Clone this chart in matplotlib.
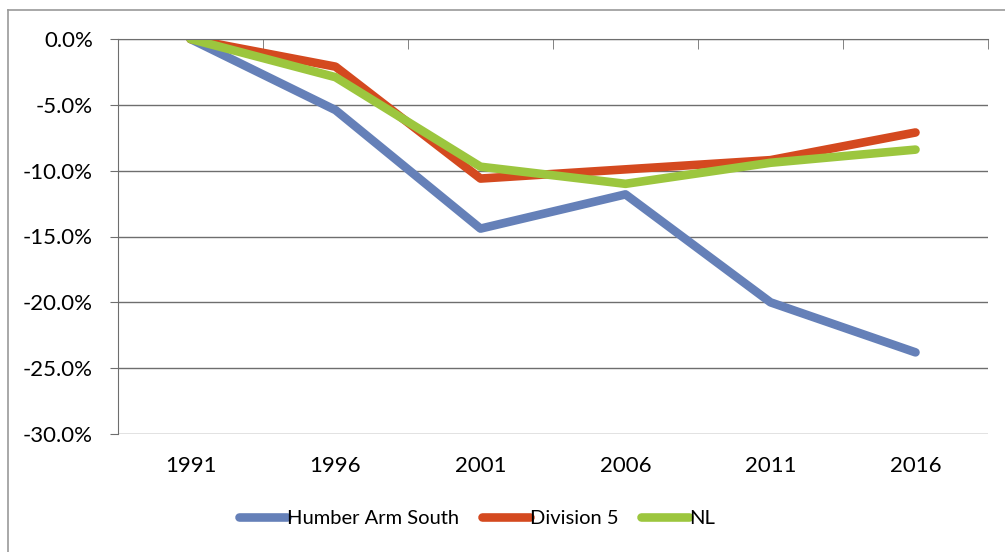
import numpy as np
import matplotlib.pyplot as plt
from matplotlib.lines import Line2D
from matplotlib.ticker import FuncFormatter

years = ['1991', '1996', '2001', '2006', '2011', '2016']

# population change relative to 1991, in percent
humber_arm_south = [0.0, -5.4, -14.4, -11.8, -20.0, -23.8]
division_5 = [0.0, -2.1, -10.6, -9.9, -9.2, -7.1]
nl = [0.0, -2.9, -9.7, -11.0, -9.4, -8.4]

series = [('Humber Arm South', humber_arm_south, '#6580B8'),
          ('Division 5', division_5, '#D4491F'),
          ('NL', nl, '#9CC63E')]

plt.rcParams['font.family'] = ['Lato', 'DejaVu Sans']

fig = plt.figure(figsize=(10.05, 5.52), dpi=100)
W, H = 1005, 552
ax = fig.add_axes([118 / W, (H - 434) / H, 870 / W, 395 / H])

# chart border (left and top edges only, the rest runs off the page)
for xs, ys in [([8, 8], [0, 542]), ([8, W], [542, 542])]:
    fig.add_artist(Line2D([v / W for v in xs], [v / H for v in ys],
                          transform=fig.transFigure, color='#9a9a9a', linewidth=1.2))

x = np.arange(len(years))
for name, vals, color in series:
    ax.plot(x, vals, color=color, linewidth=6.2, solid_capstyle='round',
            solid_joinstyle='round', label=name)

ax.set_xlim(-0.5, len(years) - 0.5)
ax.set_ylim(-30, 0)
ax.set_yticks(np.arange(-30, 1, 5))
ax.yaxis.set_major_formatter(FuncFormatter(lambda v, p: '%.1f%%' % v))
ax.yaxis.grid(True, color='#6e6e6e', linewidth=1.0)
ax.set_axisbelow(True)

ax.set_xticks(x)
ax.set_xticklabels(years)
ax.set_xticks(np.arange(-0.5, len(years), 1.0), minor=True)
ax.tick_params(axis='x', which='major', length=0, pad=16, labelsize=16)
ax.tick_params(axis='x', which='minor', bottom=False, top=True, direction='in',
               length=7, color='#6e6e6e')
ax.tick_params(axis='y', length=6, color='#6e6e6e', labelsize=16, pad=12)

for side in ['right', 'bottom']:
    ax.spines[side].set_visible(False)
ax.spines['left'].set_color('#6e6e6e')
ax.spines['top'].set_color('#6e6e6e')

leg = fig.legend(loc='center', bbox_to_anchor=(477 / W, 34 / H), ncol=3, frameon=False,
                 fontsize=14.5, handlelength=2.4, handletextpad=0.0, columnspacing=1.1)

fig.savefig('out.png', dpi=100)
